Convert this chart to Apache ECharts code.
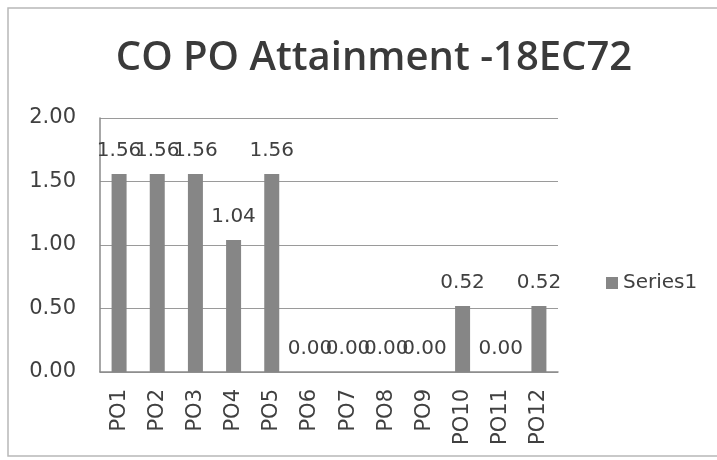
<!DOCTYPE html>
<html><head><meta charset="utf-8">
<script src="https://cdn.jsdelivr.net/npm/echarts@6/dist/echarts.min.js"></script>
<style>html,body{margin:0;padding:0;background:#fff}#c{width:717px;height:460px}</style>
</head><body><div id="c"></div>
<script>
const categories = ['PO1','PO2','PO3','PO4','PO5','PO6','PO7','PO8','PO9','PO10','PO11','PO12'];
const series1 = [1.56,1.56,1.56,1.04,1.56,0.00,0.00,0.00,0.00,0.52,0.00,0.52];
const yTicks = [0, 0.5, 1, 1.5, 2];
const titleText = 'CO PO Attainment -18EC72';
const seriesName = 'Series1';

const chart = echarts.init(document.getElementById('c'), null, {renderer:'canvas'});
const txt = '#404040';
const font = '"DejaVu Sans", sans-serif';
chart.setOption({
  backgroundColor:'#fff',
  animation:false,
  title:{text:titleText,left:369,top:34,textAlign:'center',
    textStyle:{fontFamily:'"Open Sans", sans-serif',fontSize:40,fontWeight:600,color:'#3a3a3a'}},
  legend:{data:[seriesName],left:601,top:268,icon:'rect',itemWidth:12,itemHeight:12,itemGap:6,
    textStyle:{fontFamily:font,fontSize:20,color:txt}},
  grid:{left:100,right:159,top:118,bottom:88},
  xAxis:{type:'category',data:categories,
    axisLine:{lineStyle:{color:'#8a8a8a',width:1.5}},axisTick:{show:false},
    axisLabel:{rotate:90,fontFamily:font,fontSize:21,color:txt,margin:17}},
  yAxis:{type:'value',min:yTicks[0],max:yTicks[yTicks.length-1],interval:0.5,
    axisLine:{show:true,lineStyle:{color:'#8a8a8a',width:1.5}},axisTick:{show:false},
    splitLine:{lineStyle:{color:'#9a9a9a',width:1.2}},
    axisLabel:{fontFamily:font,fontSize:21,color:txt,margin:24,formatter:v=>v.toFixed(2)}},
  series:[{name:seriesName,type:'bar',data:series1,barWidth:15,
    itemStyle:{color:'#868686'},
    label:{show:true,position:'top',distance:13,fontFamily:font,fontSize:20,color:txt,
      formatter:p=>p.value.toFixed(2)}}],
  graphic:[{type:'rect',shape:{x:8,y:8,width:712,height:448},
    style:{fill:'none',stroke:'#b8b8b8',lineWidth:1.5}}]
});
</script></body></html>
